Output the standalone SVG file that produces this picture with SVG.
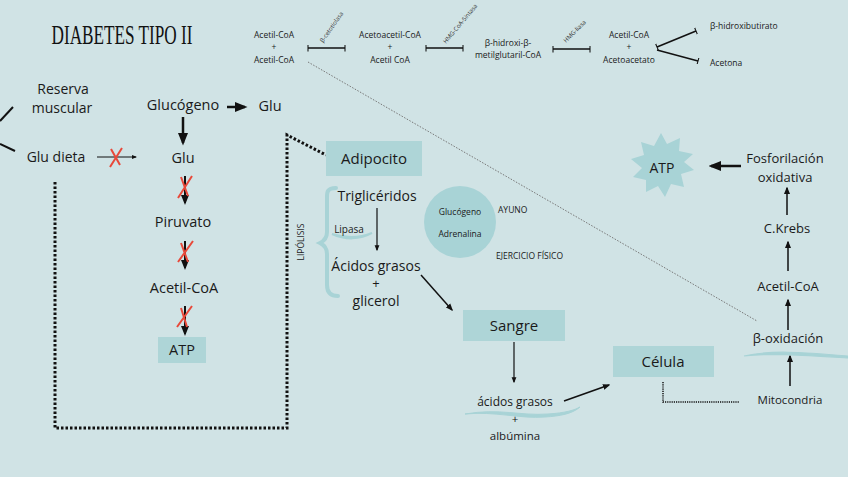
<svg xmlns="http://www.w3.org/2000/svg" width="848" height="477" viewBox="0 0 848 477">
<defs>
<style>
.t{font-family:"Open Sans","Liberation Sans",sans-serif;fill:#1a1a1a;text-anchor:middle}
.s9{font-size:8.5px}.s10{font-size:10px}.s11{font-size:11.5px}.s12{font-size:12px}.s13{font-size:13px}.s14{font-size:14px}.s145{font-size:14.5px}.s15{font-size:15px}
.box{fill:#aed5d7}
.ln{stroke:#111;fill:none}
.x{stroke:#e8493a;stroke-width:2;fill:none}
.enz{font-family:"Open Sans","Liberation Sans",sans-serif;font-size:6px;fill:#333}
</style>
<marker id="ah" viewBox="0 0 10 10" refX="8" refY="5" markerWidth="5" markerHeight="5" orient="auto"><path d="M0,1 L10,5 L0,9 z" fill="#111"/></marker>
<marker id="cap" viewBox="0 0 2 10" refX="1" refY="5" markerWidth="2" markerHeight="7" orient="auto" markerUnits="userSpaceOnUse"><path d="M1,0 V10" stroke="#111" stroke-width="1.5"/></marker>
</defs>
<rect width="848" height="477" fill="#d0e3e5"/>

<text transform="translate(122,44) scale(1,1.35)" x="0" y="0" style="font-family:'Liberation Serif',serif;font-size:20px;fill:#111;text-anchor:middle" textLength="141" lengthAdjust="spacingAndGlyphs">DIABETES TIPO II</text>

<g id="connectors">
<line x1="308" y1="62" x2="757" y2="321" stroke="#777" stroke-width="1" stroke-dasharray="1.5,1.5"/>
<line class="ln" x1="308" y1="48" x2="345" y2="48" stroke-width="1.5" marker-start="url(#cap)" marker-end="url(#cap)"/>
<line class="ln" x1="426" y1="48" x2="463" y2="48" stroke-width="1.5" marker-start="url(#cap)" marker-end="url(#cap)"/>
<line class="ln" x1="553" y1="49" x2="590" y2="49" stroke-width="1.5" marker-start="url(#cap)" marker-end="url(#cap)"/>
<line class="ln" x1="657" y1="47" x2="696" y2="31" stroke-width="1.5" marker-start="url(#cap)" marker-end="url(#cap)"/>
<line class="ln" x1="657" y1="50" x2="698" y2="61" stroke-width="1.5" marker-end="url(#cap)"/>
<line class="ln" x1="0" y1="121" x2="13" y2="107" stroke-width="2"/>
<line class="ln" x1="0" y1="144" x2="15" y2="151" stroke-width="2"/>
<line class="ln" x1="97" y1="157" x2="136" y2="157" stroke-width="1" marker-end="url(#ah)"/>
<line class="ln" x1="227" y1="107" x2="245" y2="107" stroke-width="2.5" marker-end="url(#ah)"/>
<line class="ln" x1="183" y1="117" x2="183" y2="143" stroke-width="2.5" marker-end="url(#ah)"/>
<line class="ln" x1="185" y1="176" x2="185" y2="203" stroke-width="2" marker-end="url(#ah)"/>
<line class="ln" x1="185" y1="241" x2="185" y2="268" stroke-width="2" marker-end="url(#ah)"/>
<line class="ln" x1="185" y1="306" x2="185" y2="334" stroke-width="2" marker-end="url(#ah)"/>
<path d="M55,182 V428 H287 V135 L326,155" fill="none" stroke="#111" stroke-width="3" stroke-dasharray="2.5,2"/>
<line class="ln" x1="377" y1="208" x2="377" y2="250" stroke-width="1.2" marker-end="url(#ah)"/>
<line class="ln" x1="421" y1="275" x2="452" y2="310" stroke-width="1.5" marker-end="url(#ah)"/>
<line class="ln" x1="514" y1="342" x2="514" y2="382" stroke-width="1.2" marker-end="url(#ah)"/>
<line class="ln" x1="564" y1="401" x2="609" y2="385" stroke-width="1.5" marker-end="url(#ah)"/>
<path d="M663,382 V402 H739" fill="none" stroke="#111" stroke-width="1.5" stroke-dasharray="1.2,1"/>
<line class="ln" x1="790" y1="386" x2="790" y2="356" stroke-width="1.5" marker-end="url(#ah)"/>
<line class="ln" x1="788" y1="330" x2="788" y2="300" stroke-width="1.5" marker-end="url(#ah)"/>
<line class="ln" x1="788" y1="271" x2="788" y2="242" stroke-width="1.5" marker-end="url(#ah)"/>
<line class="ln" x1="787" y1="215" x2="787" y2="188" stroke-width="1.5" marker-end="url(#ah)"/>
<line class="ln" x1="741" y1="166" x2="711" y2="166" stroke-width="2.5" marker-end="url(#ah)"/>
</g>

<g id="crosses">
<path class="x" d="M110,167 L122,148 M111,149 L120,165"/>
<path class="x" d="M178,198 L192,176 M181,177 L188,196"/>
<path class="x" d="M178,262 L193,241 M181,243 L188,262"/>
<path class="x" d="M177,327 L192,306 M181,308 L187,327"/>
</g>

<g id="enzymes">
<text class="enz" transform="translate(323,43) rotate(-55)">β-cetotiolasa</text>
<text class="enz" transform="translate(446,44) rotate(-50)">HMG-CoA-Sintasa</text>
<text class="enz" transform="translate(566,43) rotate(-45)">HMG-liasa</text>
</g>

<g id="n-acetil1"><text class="t s9" x="274" y="38">Acetil-CoA</text><text class="t s9" x="274" y="50">+</text><text class="t s9" x="274" y="63">Acetil-CoA</text></g>
<g id="n-acetoacetil"><text class="t s9" x="390" y="38">Acetoacetil-CoA</text><text class="t s9" x="390" y="50">+</text><text class="t s9" x="390" y="63">Acetil CoA</text></g>
<g id="n-hmg"><text class="t s9" x="508" y="46">β-hidroxi-β-</text><text class="t s9" x="508" y="58">metilglutaril-CoA</text></g>
<g id="n-acetil2"><text class="t s9" x="629" y="38">Acetil-CoA</text><text class="t s9" x="629" y="50">+</text><text class="t s9" x="629" y="63">Acetoacetato</text></g>
<g id="n-bhb"><text class="t s9" x="710" y="29" style="text-anchor:start">β-hidroxibutirato</text></g>
<g id="n-acetona"><text class="t s9" x="710" y="66" style="text-anchor:start">Acetona</text></g>

<g id="n-reserva"><text class="t s14" x="63" y="94">Reserva</text><text class="t s14" x="62" y="113">muscular</text></g>
<g id="n-gludieta"><text class="t s14" x="56" y="162">Glu dieta</text></g>
<g id="n-glucogeno"><text class="t s145" x="183" y="110">Glucógeno</text></g>
<g id="n-glu1"><text class="t s145" x="270" y="111">Glu</text></g>
<g id="n-glu2"><text class="t s145" x="183" y="163">Glu</text></g>
<g id="n-piruvato"><text class="t s145" x="183" y="227">Piruvato</text></g>
<g id="n-acetil3"><text class="t s145" x="184" y="293">Acetil-CoA</text></g>
<g id="n-atp1"><rect class="box" x="158" y="337" width="48" height="26"/><text class="t s145" x="182" y="355">ATP</text></g>

<g id="n-adipocito"><rect class="box" x="326" y="141" width="96" height="35"/><text class="t s15" x="374" y="164">Adipocito</text></g>
<g id="n-lipolisis">
<path d="M336,188 C326,188 327,193 327,200 V232 C327,238 324,241 320,243 C324,245 327,248 327,254 V285 C327,292 330,296 338,296" fill="none" stroke="#a8d3d6" stroke-width="4" stroke-linecap="round"/>
<text class="t" style="font-size:8.5px" transform="translate(304,242) rotate(-90)">LIPÓLISIS</text>
</g>
<g id="n-trigli"><text class="t s14" x="377" y="201">Triglicéridos</text></g>
<g id="n-lipasa"><path d="M332,234 C345,240 360,240 372,233 C360,238 345,238 332,234 z" fill="#a8d3d6" stroke="#a8d3d6" stroke-width="2"/><text class="t s10" x="349" y="233">Lipasa</text></g>
<g id="n-acidos"><text class="t s14" x="376" y="271">Ácidos grasos</text><text class="t s13" x="376" y="288">+</text><text class="t s14" x="376" y="306">glicerol</text></g>
<g id="n-hormonas"><circle cx="460" cy="222" r="36" fill="#a8d3d6"/><text class="t s9" x="460" y="215">Glucógeno</text><text class="t s9" x="460" y="237">Adrenalina</text></g>
<g id="n-ayuno"><text class="t" style="font-size:8.5px;text-anchor:start" x="498" y="213">AYUNO</text></g>
<g id="n-ejercicio"><text class="t" style="font-size:8.5px;text-anchor:start" x="496" y="259">EJERCICIO FÍSICO</text></g>

<g id="n-sangre"><rect class="box" x="463" y="310" width="102" height="31"/><text class="t s15" x="514" y="331">Sangre</text></g>
<g id="n-acidosalb">
<path d="M465,414 C500,408 520,416 548,414 C565,413 575,410 580,407 C572,414 560,416 545,417 C520,419 495,411 465,414 z" fill="#a8d3d6" stroke="#a8d3d6" stroke-width="1"/>
<text class="t s12" x="515" y="406">ácidos grasos</text><text class="t s11" x="515" y="423">+</text><text class="t s11" x="515" y="440">albúmina</text></g>
<g id="n-celula"><rect class="box" x="613" y="346" width="101" height="31"/><text class="t s15" x="663" y="367">Célula</text></g>
<g id="n-mito"><text class="t s11" x="790" y="404">Mitocondria</text></g>
<g id="n-boxid"><path d="M744,356 C770,350 800,352 848,356 L848,358 C800,355 770,353 744,356 z" fill="#a8d3d6" stroke="#a8d3d6" stroke-width="1.2"/><text class="t s13" x="788" y="343">β-oxidación</text></g>
<g id="n-acetil4"><text class="t s13" x="788" y="291">Acetil-CoA</text></g>
<g id="n-krebs"><text class="t s13" x="787" y="233">C.Krebs</text></g>
<g id="n-fosfo"><text class="t s13" x="785" y="163">Fosforilación</text><text class="t s13" x="785" y="182">oxidativa</text></g>
<g id="n-atp2">
<polygon fill="#a8d3d6" points="661,133 667,144 680,138 679,151 693,154 684,162 694,170 681,174 684,187 671,184 665,197 658,186 646,192 646,180 633,177 642,168 631,159 644,155 641,142 654,146"/>
<text class="t s14" x="662" y="173">ATP</text>
</g>
</svg>
